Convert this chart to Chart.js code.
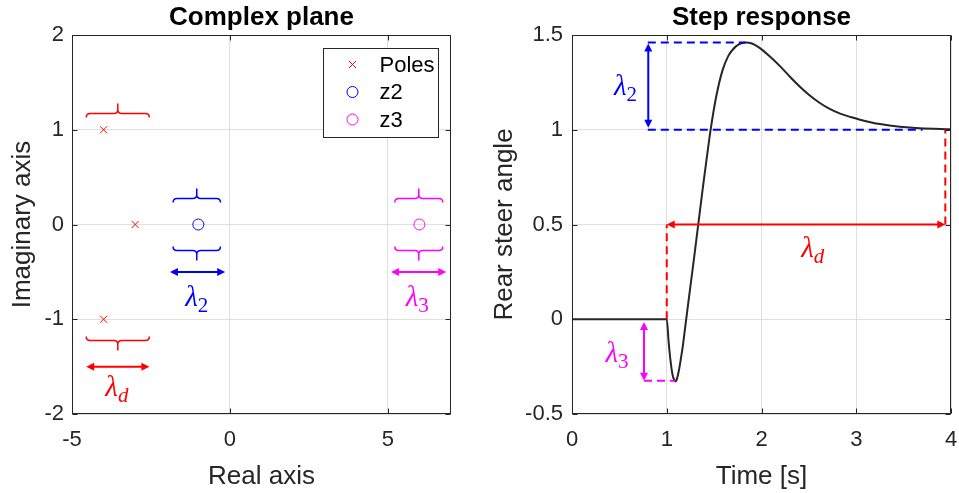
<!DOCTYPE html>
<html>
<head>
<meta charset="utf-8">
<title>Complex plane and step response</title>
<script src="https://cdn.jsdelivr.net/npm/chart.js@4.4.1/dist/chart.umd.min.js"></script>
<style>
  body { margin: 0; background: #fff; }
  #wrap { position: relative; width: 959px; height: 493px; overflow: hidden; }
  canvas { position: absolute; top: 0; }
  #plane { left: 0; }
  #step { left: 480px; }
</style>
</head>
<body>
<div id="wrap">
  <canvas id="plane" width="480" height="493" style="width:480px;height:493px"></canvas>
  <canvas id="step" width="479" height="493" style="width:479px;height:493px"></canvas>
</div>
<script>
// ---- complex plane data ----
const poleRe = [-4, -3, -4];
const poleIm = [1, 0, -1];
const z2Re = [-1];
const z2Im = [0];
const z3Re = [6];
const z3Im = [0];
const planeXTicks = [-5, 0, 5];
const planeXLabels = ['-5', '0', '5'];
const planeYTicks = [-2, -1, 0, 1, 2];
const planeYLabels = ['-2', '-1', '0', '1', '2'];

// ---- step response data ----
const stepTime = [0, 1.0, 1.02, 1.04, 1.06, 1.08, 1.095, 1.11, 1.13, 1.15, 1.17, 1.2, 1.25, 1.3, 1.33,
  1.38, 1.43, 1.46, 1.52, 1.59, 1.65, 1.7, 1.76, 1.83, 1.9, 1.98, 2.08, 2.2, 2.3, 2.4, 2.5, 2.62,
  2.72, 2.83, 2.94, 3.04, 3.15, 3.25, 3.46, 3.67, 4.0];
const stepAngle = [0, 0, -0.12, -0.22, -0.29, -0.322, -0.328, -0.31, -0.265, -0.205, -0.14, -0.02, 0.175, 0.37, 0.49,
  0.69, 0.88, 0.99, 1.17, 1.316, 1.39, 1.425, 1.45, 1.46, 1.455, 1.432, 1.39, 1.333, 1.28, 1.23, 1.185, 1.14,
  1.11, 1.085, 1.067, 1.053, 1.04, 1.03, 1.016, 1.008, 1.003];
const stepXTicks = [0, 1, 2, 3, 4];
const stepXLabels = ['0', '1', '2', '3', '4'];
const stepYTicks = [-0.5, 0, 0.5, 1, 1.5];
const stepYLabels = ['-0.5', '0', '0.5', '1', '1.5'];

// guide lines on the step response (time, angle)
const peakGuide = [[0.8, 1.46], [1.83, 1.46]];
const finalGuide = [[0.8, 1], [3.7, 1]];
const stepGuide = [[1, 0], [1, 0.5]];
const settleGuide = [[3.94, 0.5], [3.94, 1]];
const dipGuide = [[0.76, -0.325], [1.09, -0.325]];

const FONT = 'Liberation Sans, Arial, Helvetica, sans-serif';
const MATH = 'Liberation Serif, DejaVu Serif, serif';
const AXIS = '#262626';
const GRID = '#dfdfdf';
const RED = '#ff0000', BLUE = '#0000ff', MAGENTA = '#ff00ff';

const pts = (xs, ys) => xs.map((x, i) => ({ x: x, y: ys[i] }));
const pairs = p => p.map(q => ({ x: q[0], y: q[1] }));

function linearAxis(o) {
  return {
    type: 'linear',
    position: o.position,
    min: o.min,
    max: o.max,
    afterBuildTicks: s => { s.ticks = o.ticks.map(v => ({ value: v })); },
    afterFit: s => {
      if (o.position === 'bottom') { s.height = o.size; s.paddingLeft = 0; s.paddingRight = 0; }
      else { s.width = o.size; s.paddingTop = 0; s.paddingBottom = 0; }
    },
    ticks: {
      color: AXIS, font: { family: FONT, size: 22 }, padding: o.tickPad,
      autoSkip: false, maxRotation: 0,
      callback: v => o.labels[o.ticks.indexOf(v)]
    },
    grid: { color: GRID, lineWidth: 1, drawTicks: false },
    border: { display: false },
    title: { display: true, text: o.title, color: AXIS, font: { family: FONT, size: 26 }, padding: o.titlePad }
  };
}

// double headed arrow between two pixel points
function arrow(ctx, x1, y1, x2, y2, color) {
  const len = Math.hypot(x2 - x1, y2 - y1);
  const dx = (x2 - x1) / len, dy = (y2 - y1) / len;
  const L = 8, W = 4;
  ctx.strokeStyle = color;
  ctx.fillStyle = color;
  ctx.lineWidth = 2;
  ctx.beginPath();
  ctx.moveTo(x1 + dx * L * 0.5, y1 + dy * L * 0.5);
  ctx.lineTo(x2 - dx * L * 0.5, y2 - dy * L * 0.5);
  ctx.stroke();
  [[x1, y1, 1], [x2, y2, -1]].forEach(([tx, ty, s]) => {
    ctx.beginPath();
    ctx.moveTo(tx, ty);
    ctx.lineTo(tx + s * dx * L - dy * W, ty + s * dy * L + dx * W);
    ctx.lineTo(tx + s * dx * L + dy * W, ty + s * dy * L - dx * W);
    ctx.closePath();
    ctx.fill();
  });
}

// horizontal curly brace, tip = -1 points up, 1 points down
function brace(ctx, x1, x2, y, tip, color) {
  const xm = (x1 + x2) / 2, r = 4, endH = 4, tipH = 10;
  ctx.strokeStyle = color;
  ctx.lineWidth = 1.5;
  ctx.beginPath();
  ctx.moveTo(x1, y - tip * endH);
  ctx.quadraticCurveTo(x1, y, x1 + r, y);
  ctx.lineTo(xm - r, y);
  ctx.quadraticCurveTo(xm, y, xm, y + tip * r);
  ctx.lineTo(xm, y + tip * tipH);
  ctx.moveTo(xm, y + tip * r);
  ctx.quadraticCurveTo(xm, y, xm + r, y);
  ctx.lineTo(x2 - r, y);
  ctx.quadraticCurveTo(x2, y, x2, y - tip * endH);
  ctx.stroke();
}

// lambda with subscript, centred on x, baseline at y
function lambda(ctx, x, y, sub, color) {
  const big = 'italic 29px ' + MATH;
  const small = (sub === 'd' ? 'italic ' : '') + '21px ' + MATH;
  ctx.font = big;
  const w1 = ctx.measureText('λ').width;
  ctx.font = small;
  const w2 = ctx.measureText(sub).width;
  const x0 = x - (w1 + w2) / 2;
  ctx.fillStyle = color;
  ctx.textAlign = 'left';
  ctx.textBaseline = 'alphabetic';
  ctx.font = big;
  ctx.fillText('λ', x0, y);
  ctx.font = small;
  ctx.fillText(sub, x0 + w1, y + 6);
}

// box, inward ticks and title centred over the plot area
function framePlugin(title, extras, overlay) {
  return {
    id: 'frame',
    afterDatasetsDraw(chart) {
      if (!extras) return;
      chart.ctx.save();
      extras(chart.ctx, chart.scales.x, chart.scales.y, chart.chartArea);
      chart.ctx.restore();
    },
    afterDraw(chart) {
      const ctx = chart.ctx, a = chart.chartArea;
      const xs = chart.scales.x, ys = chart.scales.y;
      const l = Math.round(a.left) + 0.5, t = Math.round(a.top) + 0.5;
      const r = Math.round(a.right) - 0.5, b = Math.round(a.bottom) - 0.5;
      ctx.save();
      ctx.strokeStyle = AXIS;
      ctx.lineWidth = 1;
      ctx.beginPath();
      xs.ticks.forEach(tk => {
        const px = Math.round(xs.getPixelForValue(tk.value)) + 0.5;
        ctx.moveTo(px, b); ctx.lineTo(px, b - 5);
        ctx.moveTo(px, t); ctx.lineTo(px, t + 5);
      });
      ys.ticks.forEach(tk => {
        const py = Math.round(ys.getPixelForValue(tk.value)) + 0.5;
        ctx.moveTo(l, py); ctx.lineTo(l + 5, py);
        ctx.moveTo(r, py); ctx.lineTo(r - 5, py);
      });
      ctx.stroke();
      ctx.strokeRect(l, t, r - l, b - t);
      ctx.fillStyle = '#000';
      ctx.font = 'bold 26px ' + FONT;
      ctx.textAlign = 'center';
      ctx.textBaseline = 'alphabetic';
      ctx.fillText(title, (a.left + a.right) / 2, 25);
      if (overlay) overlay(chart, ctx, a);
      ctx.restore();
    }
  };
}

// ---- complex plane annotations (data units) ----
const planeBraces = [
  { x1: -4.55, x2: -2.55, y: 1.18, tip: -1, color: RED },
  { x1: -4.55, x2: -2.55, y: -1.22, tip: 1, color: RED },
  { x1: -1.8, x2: -0.3, y: 0.28, tip: -1, color: BLUE },
  { x1: -1.8, x2: -0.3, y: -0.27, tip: 1, color: BLUE },
  { x1: 5.22, x2: 6.74, y: 0.28, tip: -1, color: MAGENTA },
  { x1: 5.22, x2: 6.74, y: -0.27, tip: 1, color: MAGENTA }
];
const planeArrows = [
  { x1: -4.55, x2: -2.55, y: -1.5, color: RED },
  { x1: -1.9, x2: -0.15, y: -0.5, color: BLUE },
  { x1: 5.1, x2: 6.85, y: -0.5, color: MAGENTA }
];
const planeLabels = [
  { x: -3.58, y: -1.81, sub: 'd', color: RED },
  { x: -1.05, y: -0.86, sub: '2', color: BLUE },
  { x: 5.93, y: -0.86, sub: '3', color: MAGENTA }
];

// ---- step response annotations (data units) ----
const stepArrows = [
  { x1: 0.805, y1: 1.455, x2: 0.805, y2: 1.01, color: BLUE },
  { x1: 1.0, y1: 0.5, x2: 3.94, y2: 0.5, color: RED },
  { x1: 0.76, y1: -0.015, x2: 0.76, y2: -0.325, color: MAGENTA }
];
const stepLabels = [
  { x: 0.565, y: 1.184, sub: '2', color: BLUE },
  { x: 2.54, y: 0.326, sub: 'd', color: RED },
  { x: 0.475, y: -0.226, sub: '3', color: MAGENTA }
];

function drawLegend(chart, ctx, a) {
  const bx = Math.round(a.right) - 13 - 115 + 0.5, by = Math.round(a.top) + 13 + 0.5;
  ctx.fillStyle = '#fff';
  ctx.fillRect(bx, by, 115, 89);
  ctx.strokeStyle = AXIS;
  ctx.lineWidth = 1;
  ctx.strokeRect(bx, by, 115, 89);
  ctx.font = '22px ' + FONT;
  ctx.textAlign = 'left';
  ctx.textBaseline = 'middle';
  chart.data.datasets.forEach((ds, i) => {
    const y = by + 16 + i * 27.5, mx = bx + 29;
    ctx.strokeStyle = ds.borderColor;
    ctx.lineWidth = 1;
    ctx.beginPath();
    if (ds.pointStyle === 'crossRot') {
      ctx.moveTo(mx - 3.5, y - 3.5); ctx.lineTo(mx + 3.5, y + 3.5);
      ctx.moveTo(mx - 3.5, y + 3.5); ctx.lineTo(mx + 3.5, y - 3.5);
    } else {
      ctx.arc(mx, y, 5.5, 0, Math.PI * 2);
    }
    ctx.stroke();
    ctx.fillStyle = '#000';
    ctx.fillText(ds.label, bx + 56, y + 1);
  });
}

new Chart(document.getElementById('plane'), {
  type: 'scatter',
  data: {
    datasets: [
      { label: 'Poles', data: pts(poleRe, poleIm), pointStyle: 'crossRot', pointRadius: 5,
        borderColor: RED, backgroundColor: RED, borderWidth: 1 },
      { label: 'z2', data: pts(z2Re, z2Im), pointStyle: 'circle', pointRadius: 5.5,
        borderColor: BLUE, backgroundColor: 'rgba(0,0,0,0)', borderWidth: 1 },
      { label: 'z3', data: pts(z3Re, z3Im), pointStyle: 'circle', pointRadius: 5.5,
        borderColor: MAGENTA, backgroundColor: 'rgba(0,0,0,0)', borderWidth: 1 }
    ]
  },
  options: {
    responsive: false,
    animation: false,
    events: [],
    devicePixelRatio: 1,
    layout: { padding: { top: 35, right: 29, left: 0, bottom: 0 } },
    plugins: { legend: { display: false }, tooltip: { enabled: false } },
    scales: {
      x: linearAxis({ position: 'bottom', min: -5, max: 7, ticks: planeXTicks, labels: planeXLabels,
        title: 'Real axis', size: 79, tickPad: 13, titlePad: { top: 0, bottom: 1 } }),
      y: linearAxis({ position: 'left', min: -2, max: 2, ticks: planeYTicks, labels: planeYLabels,
        title: 'Imaginary axis', size: 72, tickPad: 8, titlePad: { top: 7, bottom: 0 } })
    }
  },
  plugins: [framePlugin('Complex plane', (ctx, xs, ys) => {
    planeBraces.forEach(b => brace(ctx, xs.getPixelForValue(b.x1), xs.getPixelForValue(b.x2),
      Math.round(ys.getPixelForValue(b.y)) + 0.5, b.tip, b.color));
    planeArrows.forEach(p => arrow(ctx, xs.getPixelForValue(p.x1), ys.getPixelForValue(p.y),
      xs.getPixelForValue(p.x2), ys.getPixelForValue(p.y), p.color));
    planeLabels.forEach(p => lambda(ctx, xs.getPixelForValue(p.x), ys.getPixelForValue(p.y), p.sub, p.color));
  }, drawLegend)]
});

const guide = (p, color) => ({
  data: pairs(p), showLine: true, borderColor: color, borderWidth: 2, borderDash: [8, 5],
  pointRadius: 0, tension: 0
});

new Chart(document.getElementById('step'), {
  type: 'scatter',
  data: {
    datasets: [
      guide(peakGuide, BLUE),
      guide(finalGuide, BLUE),
      guide(stepGuide, RED),
      guide(settleGuide, RED),
      guide(dipGuide, MAGENTA),
      { data: pts(stepTime, stepAngle), showLine: true, borderColor: AXIS, borderWidth: 2,
        pointRadius: 0, cubicInterpolationMode: 'monotone' }
    ]
  },
  options: {
    responsive: false,
    animation: false,
    events: [],
    devicePixelRatio: 1,
    layout: { padding: { top: 35, right: 8, left: 0, bottom: 0 } },
    plugins: { legend: { display: false }, tooltip: { enabled: false } },
    scales: {
      x: linearAxis({ position: 'bottom', min: 0, max: 4, ticks: stepXTicks, labels: stepXLabels,
        title: 'Time [s]', size: 79, tickPad: 13, titlePad: { top: 0, bottom: 1 } }),
      y: linearAxis({ position: 'left', min: -0.5, max: 1.5, ticks: stepYTicks, labels: stepYLabels,
        title: 'Rear steer angle', size: 92, tickPad: 9, titlePad: { top: 9, bottom: 0 } })
    }
  },
  plugins: [framePlugin('Step response', (ctx, xs, ys) => {
    stepArrows.forEach(p => arrow(ctx, xs.getPixelForValue(p.x1), ys.getPixelForValue(p.y1),
      xs.getPixelForValue(p.x2), ys.getPixelForValue(p.y2), p.color));
    stepLabels.forEach(p => lambda(ctx, xs.getPixelForValue(p.x), ys.getPixelForValue(p.y), p.sub, p.color));
  })]
});
</script>
</body>
</html>
